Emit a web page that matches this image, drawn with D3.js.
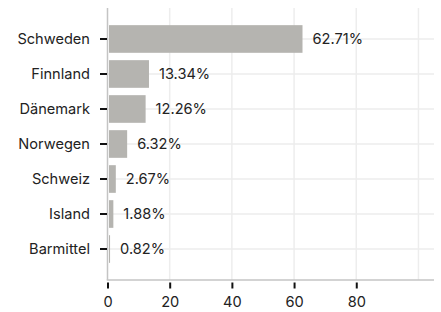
<!DOCTYPE html>
<html>
<head>
<meta charset="utf-8">
<script src="https://cdn.jsdelivr.net/npm/d3@7"></script>
<style>
  body { margin: 0; background: #fff; }
  svg { display: block; font-family: Inter, "Noto Sans", sans-serif; }
</style>
</head>
<body>
<svg id="chart" width="441" height="312"></svg>
<script>
// ─── Data ───────────────────────────────────────────────────
const categories = ["Schweden", "Finnland", "Dänemark", "Norwegen", "Schweiz", "Island", "Barmittel"];
const shares = [62.71, 13.34, 12.26, 6.32, 2.67, 1.88, 0.82];
const xTicks = [0, 20, 40, 60, 80];
const xGrid = [20, 40, 60, 80, 100];

// ─── Layout ─────────────────────────────────────────────────
const plotLeft = 107.5, plotRight = 434, plotTop = 8, plotBottom = 280;
const fontSize = 14.6;

const svg = d3.select("#chart");

const x = d3.scaleLinear().domain([0, 105]).range([plotLeft, plotRight]);
const y = d3.scaleBand().domain(categories).range([plotTop, plotBottom]).paddingInner(0.21).paddingOuter(0.49);

// Grid
svg.append("g")
  .selectAll("line")
  .data(xGrid)
  .join("line")
  .attr("x1", d => x(d)).attr("x2", d => x(d))
  .attr("y1", plotTop).attr("y2", plotBottom)
  .attr("stroke", "#ededed").attr("stroke-width", 1.5);

svg.append("g")
  .selectAll("line")
  .data(categories)
  .join("line")
  .attr("x1", plotLeft).attr("x2", plotRight)
  .attr("y1", d => y(d) + y.bandwidth() / 2).attr("y2", d => y(d) + y.bandwidth() / 2)
  .attr("stroke", "#ededed").attr("stroke-width", 1.5);

// Bars
svg.append("g")
  .selectAll("rect")
  .data(shares)
  .join("rect")
  .attr("x", x(0) + 1.5)
  .attr("y", (d, i) => y(categories[i]))
  .attr("width", d => Math.max(0, x(d) - x(0) - 1.5))
  .attr("height", y.bandwidth())
  .attr("fill", "#b5b4b0");

// Value labels
svg.append("g")
  .selectAll("text")
  .data(shares)
  .join("text")
  .attr("x", d => x(d) + 10)
  .attr("y", (d, i) => y(categories[i]) + y.bandwidth() / 2)
  .attr("dy", "0.35em")
  .attr("font-size", fontSize)
  .attr("fill", "#222")
  .text(d => d.toFixed(2) + "%");

// Axis lines
svg.append("line")
  .attr("x1", plotLeft).attr("x2", plotLeft).attr("y1", plotTop).attr("y2", plotBottom)
  .attr("stroke", "#c4c4c4").attr("stroke-width", 1.5);
svg.append("line")
  .attr("x1", plotLeft - 0.75).attr("x2", plotRight).attr("y1", plotBottom).attr("y2", plotBottom)
  .attr("stroke", "#c4c4c4").attr("stroke-width", 1.5);

// Y axis ticks + labels
const yAxis = d3.axisLeft(y).tickSize(7).tickPadding(10);
const gy = svg.append("g").attr("transform", `translate(${plotLeft - 0.5},0)`).call(yAxis);
gy.attr("font-family", null).attr("font-size", null);
gy.select(".domain").remove();
gy.selectAll(".tick line").attr("stroke", "#111").attr("stroke-width", 2);
gy.selectAll(".tick text").attr("font-size", fontSize).attr("fill", "#222");

// X axis ticks + labels
const xAxis = d3.axisBottom(x).tickValues(xTicks).tickSize(6).tickPadding(8).tickFormat(d3.format("d"));
const gx = svg.append("g").attr("transform", `translate(0,${plotBottom + 2.5})`).call(xAxis);
gx.attr("font-family", null).attr("font-size", null);
gx.select(".domain").remove();
gx.selectAll(".tick line").attr("stroke", "#111").attr("stroke-width", 2);
gx.selectAll(".tick text").attr("font-size", fontSize).attr("fill", "#222");
</script>
</body>
</html>
